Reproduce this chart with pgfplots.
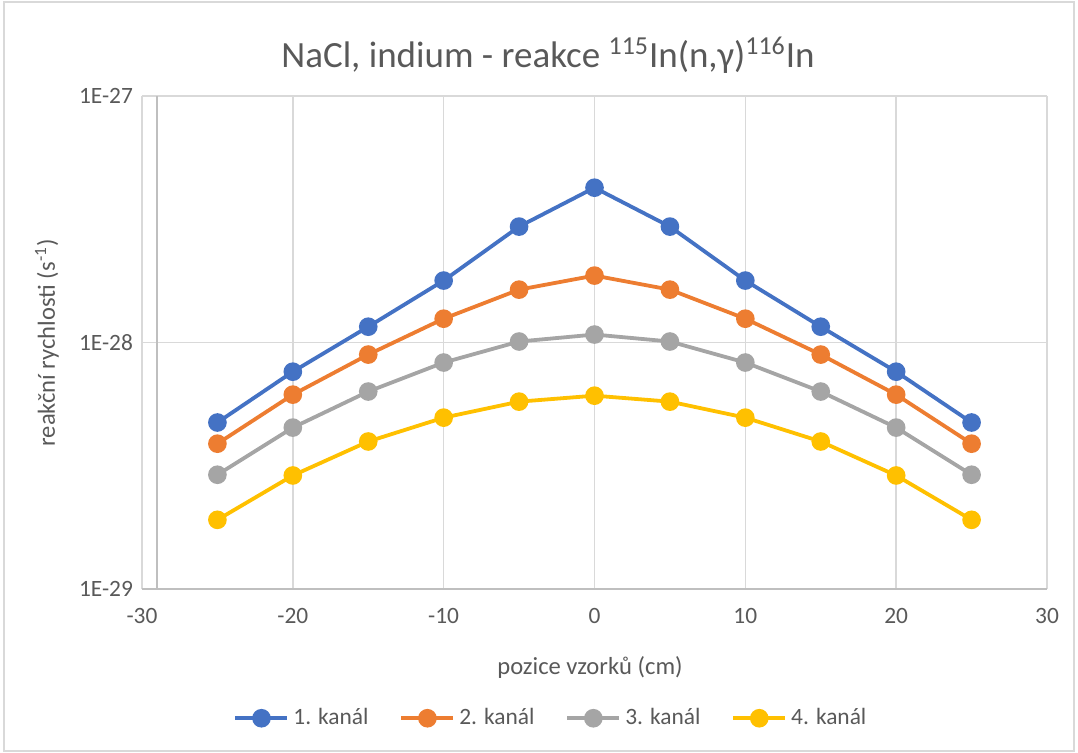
\documentclass[border=0pt]{standalone}
\usepackage{fontspec}
\setmainfont{Carlito}
\usepackage{pgfplots}
\pgfplotsset{compat=1.18}
\definecolor{c1}{HTML}{4472C4}
\definecolor{c2}{HTML}{ED7D31}
\definecolor{c3}{HTML}{A5A5A5}
\definecolor{c4}{HTML}{FFC000}
\definecolor{txt}{HTML}{595959}
\definecolor{grd}{HTML}{D9D9D9}
\definecolor{axl}{HTML}{BFBFBF}
\begin{document}
\begin{tikzpicture}
\path[use as bounding box] (0,0) rectangle (539pt,376.5pt);
\draw[grd, line width=0.6pt] (2pt,1pt) rectangle (537pt,375.5pt);
\begin{axis}[
  at={(71pt,82pt)}, anchor=south west,
  scale only axis, width=452.5pt, height=246.5pt,
  xmin=-30, xmax=30, ymin=1e-29, ymax=1e-27, ymode=log,
  xtick={-30,-20,-10,0,10,20,30},
  xticklabels={-30,-20,-10,0,10,20,30},
  ytick={1e-29,1e-28,1e-27},
  yticklabels={1E-29,1E-28,1E-27},
  minor ytick={}, minor tick length=0pt,
  major tick length=0pt,
  tick pos=left,
  grid=major, major grid style={grd, line width=0.7pt},
  axis line style={draw=none},
  tick label style={font=\fontsize{11.7pt}{13pt}\selectfont, text=txt},
  yticklabel style={xshift=-1pt},
  xticklabel style={yshift=-6pt},
  legend columns=4,
  legend style={at={(axis description cs:0.453,-0.262)}, anchor=center, draw=none, fill=none,
    font=\fontsize{11.7pt}{13pt}\selectfont, text=txt, /tikz/every even column/.append style={column sep=13.5pt}},
  legend image code/.code={\draw[#1, mark repeat=2, mark phase=2] plot coordinates {(0pt,0pt) (13pt,0pt) (26pt,0pt)};},
  every axis plot/.append style={line width=1.9pt, mark=*, mark size=3.7pt},
  clip=false,
]
\draw[axl, line width=0.8pt] (axis cs:-30,1e-29) -- (axis cs:30,1e-29);
\draw[axl, line width=0.8pt] (axis cs:-29,1e-29) -- (axis cs:-29,1e-27);
\addplot[c1, mark options={fill=c1}] coordinates {(-25,4.74e-29) (-20,7.62e-29) (-15,1.16e-28) (-10,1.785e-28) (-5,2.955e-28) (0,4.25e-28) (5,2.955e-28) (10,1.785e-28) (15,1.16e-28) (20,7.62e-29) (25,4.74e-29)};
\addplot[c2, mark options={fill=c2}] coordinates {(-25,3.89e-29) (-20,6.15e-29) (-15,8.94e-29) (-10,1.25e-28) (-5,1.64e-28) (0,1.87e-28) (5,1.64e-28) (10,1.25e-28) (15,8.94e-29) (20,6.15e-29) (25,3.89e-29)};
\addplot[c3, mark options={fill=c3}] coordinates {(-25,2.91e-29) (-20,4.52e-29) (-15,6.33e-29) (-10,8.3e-29) (-5,1.01e-28) (0,1.078e-28) (5,1.01e-28) (10,8.3e-29) (15,6.33e-29) (20,4.52e-29) (25,2.91e-29)};
\addplot[c4, mark options={fill=c4}] coordinates {(-25,1.91e-29) (-20,2.89e-29) (-15,3.97e-29) (-10,4.96e-29) (-5,5.76e-29) (0,6.09e-29) (5,5.76e-29) (10,4.96e-29) (15,3.97e-29) (20,2.89e-29) (25,1.91e-29)};
\legend{1. kanál, 2. kanál, 3. kanál, 4. kanál}
\end{axis}
\node[text=txt, font=\fontsize{18.5pt}{22pt}\selectfont] at (274pt,349pt) {NaCl, indium - reakce \textsuperscript{115}In(n,γ)\textsuperscript{116}In};
\node[text=txt, font=\fontsize{12.3pt}{14pt}\selectfont] at (295pt,43pt) {pozice vzorků (cm)};
\node[text=txt, font=\fontsize{12.3pt}{14pt}\selectfont, rotate=90] at (23.5pt,205pt) {reakční rychlosti (s\textsuperscript{-1})};
\end{tikzpicture}
\end{document}
